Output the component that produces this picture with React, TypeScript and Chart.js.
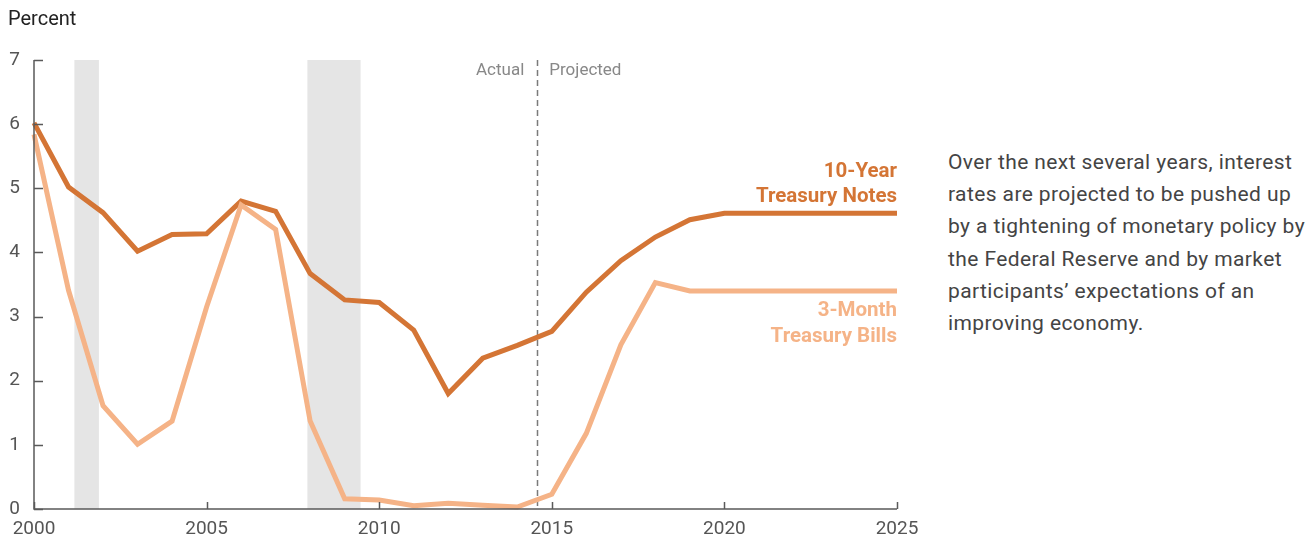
import React, { useEffect, useRef } from "react";
import { Chart, registerables } from "chart.js";

Chart.register(...registerables);

const years = [2000, 2001, 2002, 2003, 2004, 2005, 2006, 2007, 2008, 2009, 2010, 2011, 2012, 2013, 2014, 2015, 2016, 2017, 2018, 2019, 2020, 2021, 2022, 2023, 2024, 2025];
const tenYear = [6.02, 5.02, 4.62, 4.02, 4.28, 4.29, 4.8, 4.64, 3.67, 3.26, 3.22, 2.79, 1.8, 2.35, 2.55, 2.77, 3.38, 3.87, 4.24, 4.51, 4.61, 4.61, 4.61, 4.61, 4.61, 4.61];
const threeMonth = [5.84, 3.41, 1.61, 1.01, 1.37, 3.15, 4.74, 4.36, 1.37, 0.16, 0.14, 0.05, 0.09, 0.06, 0.03, 0.23, 1.18, 2.56, 3.53, 3.4, 3.4, 3.4, 3.4, 3.4, 3.4, 3.4];
const recessions = [
  [2001.17, 2001.88],
  [2007.92, 2009.46],
];
const projectionStart = 2014.58;
const yTicks = [0, 1, 2, 3, 4, 5, 6, 7];
const xTicks = [2000, 2005, 2010, 2015, 2020, 2025];
const noteLines = [
  "Over the next several years, interest",
  "rates are projected to be pushed up",
  "by a tightening of monetary policy by",
  "the Federal Reserve and by market",
  "participants’ expectations of an",
  "improving economy.",
];

const DARK = "#D47535";
const LIGHT = "#F5B387";
const FONT = "Roboto, 'Liberation Sans', sans-serif";

const overlay = {
  id: "overlay",
  beforeDatasetsDraw(chart: any) {
    const { ctx, chartArea, scales } = chart;
    const x = scales.x;
    ctx.save();
    ctx.fillStyle = "#E5E5E5";
    recessions.forEach(([a, b]) => {
      const x0 = x.getPixelForValue(a);
      const x1 = x.getPixelForValue(b);
      ctx.fillRect(x0, chartArea.top, x1 - x0, chartArea.bottom - chartArea.top);
    });
    const dx = Math.round(x.getPixelForValue(projectionStart)) + 0.5;
    ctx.strokeStyle = "#7A7A7A";
    ctx.lineWidth = 1.5;
    ctx.setLineDash([6, 4]);
    ctx.beginPath();
    ctx.moveTo(dx, chartArea.top);
    ctx.lineTo(dx, chartArea.bottom);
    ctx.stroke();
    ctx.setLineDash([]);
    ctx.restore();
  },
  afterDatasetsDraw(chart: any) {
    const { ctx, chartArea, scales } = chart;
    const x = scales.x;
    const y = scales.y;
    ctx.save();
    ctx.strokeStyle = "#5A5A5A";
    ctx.lineWidth = 1.5;
    ctx.beginPath();
    ctx.moveTo(chartArea.left, chartArea.top);
    ctx.lineTo(chartArea.left, chartArea.bottom);
    ctx.lineTo(chartArea.right, chartArea.bottom);
    ctx.stroke();
    ctx.beginPath();
    yTicks.forEach((v) => {
      const py = Math.round(y.getPixelForValue(v)) + 0.5;
      ctx.moveTo(chartArea.left, py);
      ctx.lineTo(chartArea.left + 9, py);
    });
    xTicks.forEach((v) => {
      const px = Math.round(x.getPixelForValue(v)) + 0.5;
      ctx.moveTo(px, chartArea.bottom);
      ctx.lineTo(px, chartArea.bottom - 7);
    });
    ctx.stroke();

    ctx.fillStyle = "#222";
    ctx.font = `20px ${FONT}`;
    ctx.textAlign = "left";
    ctx.textBaseline = "alphabetic";
    ctx.fillText("Percent", 8, 25);

    const dx = x.getPixelForValue(projectionStart);
    ctx.fillStyle = "#888";
    ctx.font = `17px ${FONT}`;
    ctx.textAlign = "right";
    ctx.fillText("Actual", dx - 13, 75);
    ctx.textAlign = "left";
    ctx.fillText("Projected", dx + 12, 75);

    ctx.textAlign = "right";
    ctx.font = `bold 20.5px ${FONT}`;
    ctx.fillStyle = DARK;
    ctx.fillText("10-Year", chartArea.right, 177);
    ctx.fillText("Treasury Notes", chartArea.right, 202);
    ctx.fillStyle = LIGHT;
    ctx.fillText("3-Month", chartArea.right, 316);
    ctx.fillText("Treasury Bills", chartArea.right, 342);
    ctx.restore();
  },
};

export default function App() {
  const ref = useRef<HTMLCanvasElement>(null);
  useEffect(() => {
    if (!ref.current) return;
    const chart = new Chart(ref.current, {
      type: "line",
      data: {
        datasets: [
          {
            label: "3-Month Treasury Bills",
            data: years.map((yr, i) => ({ x: yr, y: threeMonth[i] })),
            borderColor: LIGHT,
            borderWidth: 5,
            pointRadius: 0,
            tension: 0,
            borderJoinStyle: "miter",
          },
          {
            label: "10-Year Treasury Notes",
            data: years.map((yr, i) => ({ x: yr, y: tenYear[i] })),
            borderColor: DARK,
            borderWidth: 5,
            pointRadius: 0,
            tension: 0,
            borderJoinStyle: "miter",
          },
        ],
      },
      options: {
        animation: false,
        responsive: false,
        maintainAspectRatio: false,
        clip: false as any,
        layout: { padding: { top: 60, right: 33, left: 0, bottom: 0 } },
        plugins: { legend: { display: false }, tooltip: { enabled: false } },
        scales: {
          x: {
            type: "linear",
            min: 2000,
            max: 2025,
            afterFit: (s: any) => {
              s.height = 35;
            },
            afterBuildTicks: (s: any) => {
              s.ticks = xTicks.map((v) => ({ value: v }));
            },
            grid: { display: false, drawTicks: false },
            border: { display: false },
            ticks: {
              padding: 9,
              color: "#555",
              font: { family: FONT, size: 19 },
              callback: (v: any) => String(v),
              maxRotation: 0,
              autoSkip: false,
            },
          },
          y: {
            min: 0,
            max: 7,
            afterFit: (s: any) => {
              s.width = 34;
            },
            afterBuildTicks: (s: any) => {
              s.ticks = yTicks.map((v) => ({ value: v }));
            },
            grid: { display: false, drawTicks: false },
            border: { display: false },
            ticks: {
              padding: 14,
              color: "#555",
              font: { family: FONT, size: 19 },
            },
          },
        },
      },
      plugins: [overlay],
    });
    return () => chart.destroy();
  }, []);

  return (
    <div style={{ position: "absolute", left: 0, top: 0, width: 1314, height: 544, background: "#fff" }}>
      <canvas ref={ref} width={930} height={544} style={{ position: "absolute", left: 0, top: 0 }} />
      <div
        style={{
          position: "absolute",
          left: 948,
          top: 146,
          width: 366,
          fontFamily: FONT,
          fontSize: 21,
          letterSpacing: "0.4px",
          lineHeight: "32.2px",
          color: "#444",
          whiteSpace: "nowrap",
        }}
      >
        {noteLines.map((l, i) => (
          <div key={i}>{l}</div>
        ))}
      </div>
    </div>
  );
}
